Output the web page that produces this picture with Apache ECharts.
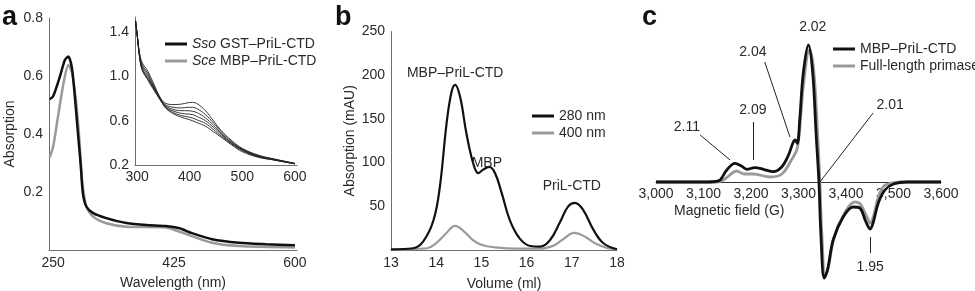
<!DOCTYPE html>
<html>
<head>
<meta charset="utf-8">
<script src="https://cdn.jsdelivr.net/npm/echarts@6/dist/echarts.min.js"></script>
<style>
  html, body { margin: 0; padding: 0; background: #fff; }
  #chart { width: 975px; height: 291px; }
</style>
</head>
<body>
<div id="chart"></div>
<script>
// panel a: absorption spectra
const ssoWave = [245, 250, 260, 267, 272, 277, 281, 286, 290, 293, 298, 308, 327, 356, 385, 413, 433, 451, 480, 519, 558, 600]
const ssoAbs = [0.52, 0.53, 0.60, 0.655, 0.667, 0.63, 0.54, 0.40, 0.29, 0.196, 0.15, 0.127, 0.11, 0.093, 0.086, 0.083, 0.075, 0.058, 0.037, 0.025, 0.02, 0.016]
const sceWave = [245, 250, 257, 265, 272, 277, 283, 288, 292, 298, 308, 327, 356, 413, 433, 480, 519, 600]
const sceAbs = [0.32, 0.356, 0.46, 0.575, 0.638, 0.615, 0.517, 0.38, 0.24, 0.15, 0.115, 0.092, 0.08, 0.078, 0.063, 0.025, 0.014, 0.009]
const aTicks = [250, 425, 600]

// inset: titration spectra
const insetWave = [297, 300, 305, 310, 320, 330, 345, 355, 370, 385, 395, 405, 415, 430, 445, 460, 480, 500, 530, 560, 600]
const insetAbs = [
  [1.50, 1.38, 1.20, 1.12, 1.05, 0.95, 0.80, 0.755, 0.745, 0.75, 0.76, 0.765, 0.75, 0.69, 0.60, 0.51, 0.42, 0.35, 0.29, 0.255, 0.215],
  [1.50, 1.38, 1.19, 1.10, 1.03, 0.93, 0.795, 0.74, 0.72, 0.715, 0.72, 0.72, 0.705, 0.655, 0.58, 0.50, 0.41, 0.345, 0.285, 0.253, 0.214],
  [1.50, 1.38, 1.18, 1.09, 1.01, 0.92, 0.79, 0.73, 0.70, 0.69, 0.69, 0.685, 0.67, 0.625, 0.56, 0.485, 0.40, 0.34, 0.28, 0.25, 0.213],
  [1.50, 1.38, 1.17, 1.07, 0.99, 0.91, 0.785, 0.72, 0.685, 0.665, 0.66, 0.655, 0.635, 0.60, 0.54, 0.475, 0.395, 0.335, 0.278, 0.248, 0.212],
  [1.50, 1.38, 1.165, 1.06, 0.98, 0.90, 0.78, 0.715, 0.67, 0.645, 0.635, 0.625, 0.605, 0.575, 0.52, 0.46, 0.39, 0.33, 0.275, 0.246, 0.211],
  [1.50, 1.38, 1.16, 1.05, 0.97, 0.89, 0.78, 0.71, 0.66, 0.63, 0.615, 0.60, 0.58, 0.55, 0.50, 0.45, 0.38, 0.32, 0.27, 0.245, 0.21]
]
const insetXTicks = [300, 400, 500, 600]
const insetYTicks = [0.2, 0.6, 1.0, 1.4]

// panel b: gel filtration
const vol280 = [13.0, 13.49, 13.71, 13.94, 14.08, 14.23, 14.34, 14.42, 14.53, 14.67, 14.82, 14.93, 15.04, 15.17, 15.30, 15.45, 15.63, 15.85, 16.08, 16.30, 16.52, 16.74, 16.92, 17.07, 17.25, 17.48, 17.70, 18.0]
const abs280 = [0.8, 2, 9.5, 34, 72, 145, 181, 189, 175, 133, 99, 88, 92, 95, 88, 65, 34, 13, 4.6, 3.8, 11.4, 32, 50, 54, 46, 23, 7.7, 0.8]
const vol400 = [13.0, 13.8, 14.0, 14.2, 14.42, 14.6, 14.8, 15.0, 15.3, 15.8, 16.3, 16.6, 16.8, 17.05, 17.3, 17.5, 17.8, 18.0]
const abs400 = [0.5, 2, 8, 18, 27.5, 22, 12, 6, 3, 1.5, 1.5, 5, 12, 19.5, 15, 8, 2, 0.5]

// panel c: EPR spectra
const fieldMbp = [3000, 3100, 3125, 3135, 3149, 3166, 3180, 3191, 3208, 3226, 3247, 3265, 3279, 3288, 3293, 3297.5, 3303, 3310, 3321, 3330, 3337, 3343, 3347, 3354, 3361, 3373, 3394, 3415, 3429, 3442, 3451, 3457, 3468, 3482, 3500, 3528, 3600]
const epcMbp = [0, 0, 0.5, 2, 12, 18.7, 16, 12.7, 14.3, 12.7, 10.3, 15.3, 27, 38.7, 42, 38.7, 65, 108.7, 137, 108.7, 48.7, 0.3, -51, -96, -88, -58, -35, -25, -26, -40, -47, -41, -21, -8, -2, 0, 0]
const fieldFull = [3000, 3130, 3145, 3170, 3185, 3205, 3240, 3265, 3285, 3298, 3310, 3323, 3332, 3340, 3345, 3349, 3356, 3363, 3375, 3396, 3418, 3430, 3444, 3451, 3458, 3468, 3480, 3495, 3520, 3600]
const epcFull = [0, 0, 3, 11, 8, 8, 5, 8, 22, 35, 95, 132, 112, 50, 0, -50, -94, -85, -55, -32, -20, -22, -35, -41, -34, -15, -4, -1, 0, 0]

const font = 'Liberation Sans, Arial, Helvetica, sans-serif'
const txt = '#2a2a2a'
const axisCol = '#6f6f6f'
const black = '#111'
const gray = '#9a9a9a'

const pairs = (xs, ys) => xs.map((x, i) => [x, ys[i]])
const comma = v => String(v).replace(/\B(?=(\d{3})+(?!\d))/g, ',')

function valAxis(extra) {
  return Object.assign({
    type: 'value',
    splitLine: { show: false },
    axisTick: { show: false },
    axisLine: { show: true, lineStyle: { color: axisCol, width: 1 } },
    axisLabel: { color: txt, fontSize: 14, fontFamily: font },
    nameTextStyle: { color: txt, fontSize: 14, fontFamily: font },
  }, extra)
}

const chart = echarts.init(document.getElementById('chart'))

const series = []
series.push({
  name: 'Sce MBP–PriL-CTD', type: 'line', xAxisIndex: 0, yAxisIndex: 0,
  data: pairs(sceWave, sceAbs), smooth: 0.25, showSymbol: false,
  lineStyle: { color: gray, width: 2.5 }, itemStyle: { color: gray },
})
series.push({
  name: 'Sso GST–PriL-CTD', type: 'line', xAxisIndex: 0, yAxisIndex: 0,
  data: pairs(ssoWave, ssoAbs), smooth: 0.25, showSymbol: false,
  lineStyle: { color: black, width: 2.5 }, itemStyle: { color: black },
})
insetAbs.forEach(arr => {
  series.push({
    type: 'line', xAxisIndex: 1, yAxisIndex: 1,
    data: pairs(insetWave, arr), smooth: 0.4, showSymbol: false,
    lineStyle: { color: '#222', width: 0.9 },
  })
})
series.push({
  name: '400 nm', type: 'line', xAxisIndex: 2, yAxisIndex: 2,
  data: pairs(vol400, abs400), smooth: 0.4, showSymbol: false,
  lineStyle: { color: gray, width: 2.2 }, itemStyle: { color: gray },
})
series.push({
  name: '280 nm', type: 'line', xAxisIndex: 2, yAxisIndex: 2,
  data: pairs(vol280, abs280), smooth: 0.4, showSymbol: false,
  lineStyle: { color: black, width: 2.2 }, itemStyle: { color: black },
  markPoint: {
    symbol: 'rect', symbolSize: 1, itemStyle: { color: 'transparent' },
    label: { show: true, position: 'inside', color: txt, fontSize: 14, fontFamily: font, formatter: p => p.name },
    data: [
      { name: 'MBP–PriL-CTD', coord: [14.42, 202] },
      { name: 'MBP', coord: [15.12, 99] },
      { name: 'PriL-CTD', coord: [17.0, 73] },
    ],
  },
})
series.push({
  name: 'Full-length primase', type: 'line', xAxisIndex: 3, yAxisIndex: 3,
  data: pairs(fieldFull, epcFull), smooth: 0.35, showSymbol: false,
  lineStyle: { color: gray, width: 2.8 }, itemStyle: { color: gray },
})
series.push({
  name: 'MBP–PriL-CTD', type: 'line', xAxisIndex: 3, yAxisIndex: 3,
  data: pairs(fieldMbp, epcMbp), smooth: 0.35, showSymbol: false,
  lineStyle: { color: black, width: 2.8 }, itemStyle: { color: black },
  markPoint: {
    symbol: 'rect', symbolSize: 1, itemStyle: { color: 'transparent' },
    label: { show: true, position: 'inside', color: txt, fontSize: 14, fontFamily: font, formatter: p => p.name },
    data: [
      { name: '2.02', coord: [3330, 155] },
      { name: '2.04', coord: [3204, 130] },
      { name: '2.09', coord: [3204, 72] },
      { name: '2.11', coord: [3065, 55] },
      { name: '2.01', coord: [3493, 77] },
      { name: '1.95', coord: [3451, -85] },
    ],
  },
  markLine: {
    silent: true, symbol: 'none', label: { show: false },
    lineStyle: { color: '#222', width: 1, type: 'solid' },
    data: [
      [{ coord: [3229, 120] }, { coord: [3282, 45] }],
      [{ coord: [3204, 60] }, { coord: [3204, 22] }],
      [{ coord: [3093, 47] }, { coord: [3156, 22] }],
      [{ coord: [3457, 69] }, { coord: [3345, 0] }],
      [{ coord: [3451, -55] }, { coord: [3451, -71] }],
    ],
  },
})

const legendBase = {
  orient: 'vertical', icon: 'rect', itemWidth: 22, itemHeight: 3, itemGap: 3,
  textStyle: { color: txt, fontSize: 14, fontFamily: font },
}

const gridBase = { containLabel: false, outerBoundsMode: 'none' }

const option = {
  animation: false,
  grid: [
    Object.assign({ left: 49, top: 18, width: 248, height: 232 }, gridBase),
    Object.assign({ left: 135, top: 17, width: 162, height: 148 }, gridBase),
    Object.assign({ left: 391, top: 31.5, width: 226, height: 218.5 }, gridBase),
    Object.assign({ left: 656, top: 20, width: 285, height: 262 }, gridBase),
    // upper half of panel c: carries the field axis at zero signal
    Object.assign({ left: 656, top: 20, width: 285, height: 162 }, gridBase),
  ],
  xAxis: [
    valAxis({
      gridIndex: 0, min: 244, max: 603,
      axisLabel: { color: txt, fontSize: 14, fontFamily: font, margin: 6, customValues: aTicks },
      axisTick: { show: false, customValues: aTicks },
      name: 'Wavelength (nm)', nameLocation: 'middle', nameGap: 26,
    }),
    valAxis({
      gridIndex: 1, min: 296, max: 604,
      axisLabel: { color: txt, fontSize: 14, fontFamily: font, margin: 5, customValues: insetXTicks },
      axisTick: { show: false, customValues: insetXTicks },
    }),
    valAxis({
      gridIndex: 2, min: 13, max: 18, interval: 1,
      axisLabel: { color: txt, fontSize: 14, fontFamily: font, margin: 6 },
      name: 'Volume (ml)', nameLocation: 'middle', nameGap: 27,
    }),
    valAxis({ gridIndex: 3, min: 3000, max: 3600, show: false }),
    valAxis({
      gridIndex: 4, min: 3000, max: 3600, interval: 100,
      axisLine: { show: true, lineStyle: { color: '#333', width: 1 } },
      axisLabel: { color: txt, fontSize: 14, fontFamily: font, margin: 5, formatter: comma },
    }),
  ],
  yAxis: [
    valAxis({
      gridIndex: 0, min: 0, max: 0.8, interval: 0.2,
      axisLabel: { color: txt, fontSize: 14, fontFamily: font, margin: 6, showMinLabel: false, formatter: v => v.toFixed(1) },
      name: 'Absorption', nameLocation: 'middle', nameGap: 32,
    }),
    valAxis({
      gridIndex: 1, min: 0.2, max: 1.535,
      axisLabel: { color: txt, fontSize: 14, fontFamily: font, margin: 6, customValues: insetYTicks, formatter: v => v.toFixed(1) },
      axisTick: { show: false, customValues: insetYTicks },
    }),
    valAxis({
      gridIndex: 2, min: 0, max: 250, interval: 50,
      axisLabel: { color: txt, fontSize: 14, fontFamily: font, margin: 6, showMinLabel: false },
      name: 'Absorption (mAU)', nameLocation: 'middle', nameGap: 34,
    }),
    valAxis({ gridIndex: 3, min: -100, max: 162, show: false }),
    valAxis({ gridIndex: 4, min: 0, max: 162, show: false }),
  ],
  legend: [
    Object.assign({}, legendBase, {
      left: 160, top: 32,
      data: ['Sso GST–PriL-CTD', 'Sce MBP–PriL-CTD'],
      formatter: name => {
        const i = name.indexOf(' ')
        return '{i|' + name.slice(0, i) + '}' + name.slice(i)
      },
      textStyle: { color: txt, fontSize: 14, fontFamily: font, rich: { i: { fontStyle: 'italic', fontSize: 14, fontFamily: font, color: txt } } },
    }),
    Object.assign({}, legendBase, { left: 527, top: 104, data: ['280 nm', '400 nm'] }),
    Object.assign({}, legendBase, { left: 828, top: 37, data: ['MBP–PriL-CTD', 'Full-length primase'] }),
  ],
  graphic: [
    { type: 'text', left: 2, top: 4, style: { text: 'a', fill: '#111', font: 'bold 27px ' + font } },
    { type: 'text', left: 335, top: 4, style: { text: 'b', fill: '#111', font: 'bold 27px ' + font } },
    { type: 'text', left: 642, top: 4, style: { text: 'c', fill: '#111', font: 'bold 27px ' + font } },
    { type: 'text', left: 674, top: 204, style: { text: 'Magnetic field (G)', fill: txt, font: '14px ' + font } },
  ],
  series: series,
}

chart.setOption(option)
</script>
</body>
</html>
